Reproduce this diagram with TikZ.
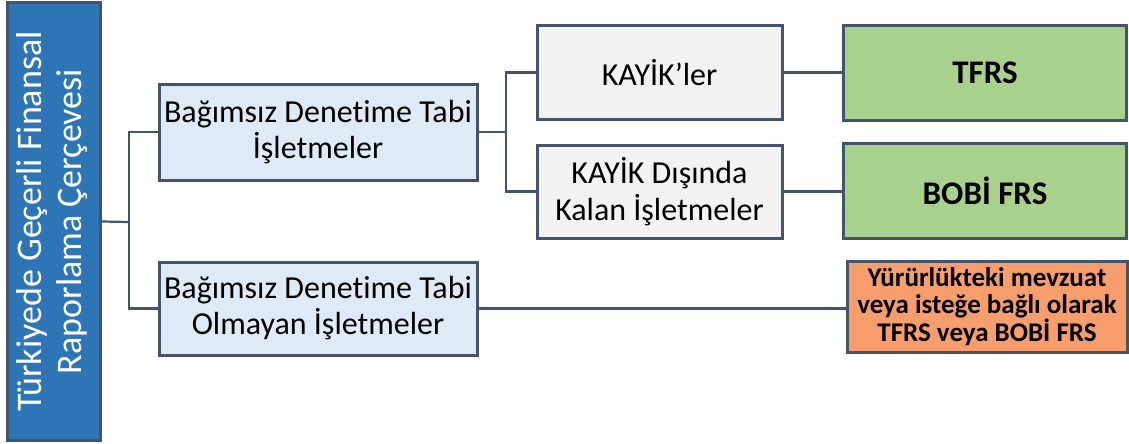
\documentclass[tikz,border=0pt]{standalone}
\usepackage{fontspec}
\setmainfont{Carlito}[Ligatures=NoCommon]
\definecolor{edgec}{HTML}{44546A}
\definecolor{bluef}{HTML}{2E75B6}
\definecolor{lblue}{HTML}{DEEBF7}
\definecolor{greyf}{HTML}{F2F2F2}
\definecolor{greenf}{HTML}{A9D18E}
\definecolor{orangef}{HTML}{F89D6C}
\begin{document}
\begin{tikzpicture}[x=1pt,y=-1pt,
  boxbase/.style={draw=edgec, line width=3pt, rectangle, inner sep=0pt, align=center, text=black},
  level1/.style={boxbase, fill=lblue, minimum width=318pt, font=\fontsize{32}{36}\selectfont},
  level2/.style={boxbase, fill=greyf, minimum width=245pt, minimum height=93pt, font=\fontsize{32}{37}\selectfont},
  greenbox/.style={boxbase, fill=greenf, minimum width=283pt, font=\bfseries\fontsize{33}{36}\selectfont},
  conn/.style={draw=edgec, line width=2.2pt}]
\useasboundingbox (0,0) rectangle (1129,444);
\node[boxbase, fill=bluef, minimum width=93pt, minimum height=437pt] (L) at (53.5,221.5) {};
\node[rotate=90, text=white, align=center, font=\fontsize{36}{40}\selectfont] (Lt) at (52,221.5) {Türkiyede Geçerli Finansal\\Raporlama Çerçevesi};
\node[level1, minimum height=96pt] (B1) at (318,132) {Bağımsız Denetime Tabi\\İşletmeler};
\node[level1, minimum height=93pt] (B2) at (318,308.5) {Bağımsız Denetime Tabi\\Olmayan İşletmeler};
\node[level2] (K1) at (659.5,72.5) {KAYİK’ler};
\node[level2] (K2) at (659.5,191.5) {KAYİK Dışında\\Kalan İşletmeler};
\node[greenbox, minimum height=94pt] (G1) at (985,73) {TFRS};
\node[greenbox, minimum height=95pt] (G2) at (985,190.5) {BOBİ FRS};
\node[boxbase, fill=orangef, minimum width=280pt, minimum height=91pt, font=\bfseries\fontsize{27}{27}\selectfont] (O) at (987,306.5) {Yürürlükteki mevzuat\\veya isteğe bağlı olarak\\TFRS veya BOBİ FRS};
\coordinate (j1) at (129,222);
\coordinate (j2) at (506,132);
\draw[conn] (L.east) -- (j1);
\draw[conn] (B1.west) -| (j1) |- (B2.west);
\draw[conn] (B1.east) -- (j2);
\draw[conn] (K1.west) -| (j2) |- (K2.west);
\draw[conn] (K1.east) -- (K1.east -| G1.west);
\draw[conn] (K2.east) -- (K2.east -| G2.west);
\draw[conn] (B2.east) -- (B2.east -| O.west);
\end{tikzpicture}
\end{document}
